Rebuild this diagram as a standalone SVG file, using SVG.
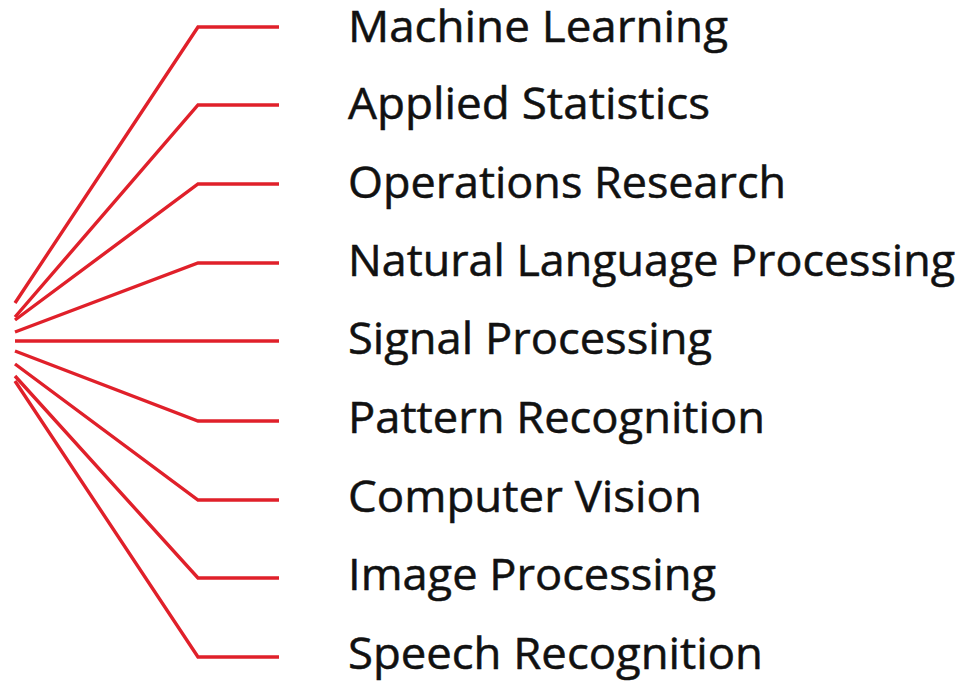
<svg xmlns="http://www.w3.org/2000/svg" width="976" height="681" viewBox="0 0 976 681">
<style>
.c{fill:none;stroke:#e0202a;stroke-width:3.4;stroke-linejoin:miter}
.t{font-family:"Open Sans","Liberation Sans",sans-serif;font-size:43px;fill:#111;stroke:#111;stroke-width:0.5}
</style>
<rect width="976" height="681" fill="#fff"/>
<g id="connectors">
<polyline class="c" points="15,303 198,27 279,27"/>
<polyline class="c" points="15,317 198,105 279,105"/>
<polyline class="c" points="15,320 198,184 279,184"/>
<polyline class="c" points="15,332 198,263 279,263"/>
<polyline class="c" points="15,341 279,341"/>
<polyline class="c" points="15,351 198,421 279,421"/>
<polyline class="c" points="15,364 198,500 279,500"/>
<polyline class="c" points="15,376 198,578 279,578"/>
<polyline class="c" points="15,381 198,657 279,657"/>
</g>
<g id="n1"><text class="t" x="348" y="42" textLength="380" lengthAdjust="spacingAndGlyphs">Machine Learning</text></g>
<g id="n2"><text class="t" x="348" y="119" textLength="362" lengthAdjust="spacingAndGlyphs">Applied Statistics</text></g>
<g id="n3"><text class="t" x="348" y="198" textLength="438" lengthAdjust="spacingAndGlyphs">Operations Research</text></g>
<g id="n4"><text class="t" x="348" y="276" textLength="607" lengthAdjust="spacingAndGlyphs">Natural Language Processing</text></g>
<g id="n5"><text class="t" x="348" y="354" textLength="364" lengthAdjust="spacingAndGlyphs">Signal Processing</text></g>
<g id="n6"><text class="t" x="348" y="433" textLength="417" lengthAdjust="spacingAndGlyphs">Pattern Recognition</text></g>
<g id="n7"><text class="t" x="348" y="512" textLength="354" lengthAdjust="spacingAndGlyphs">Computer Vision</text></g>
<g id="n8"><text class="t" x="348" y="590" textLength="368" lengthAdjust="spacingAndGlyphs">Image Processing</text></g>
<g id="n9"><text class="t" x="348" y="669" textLength="415" lengthAdjust="spacingAndGlyphs">Speech Recognition</text></g>
</svg>
